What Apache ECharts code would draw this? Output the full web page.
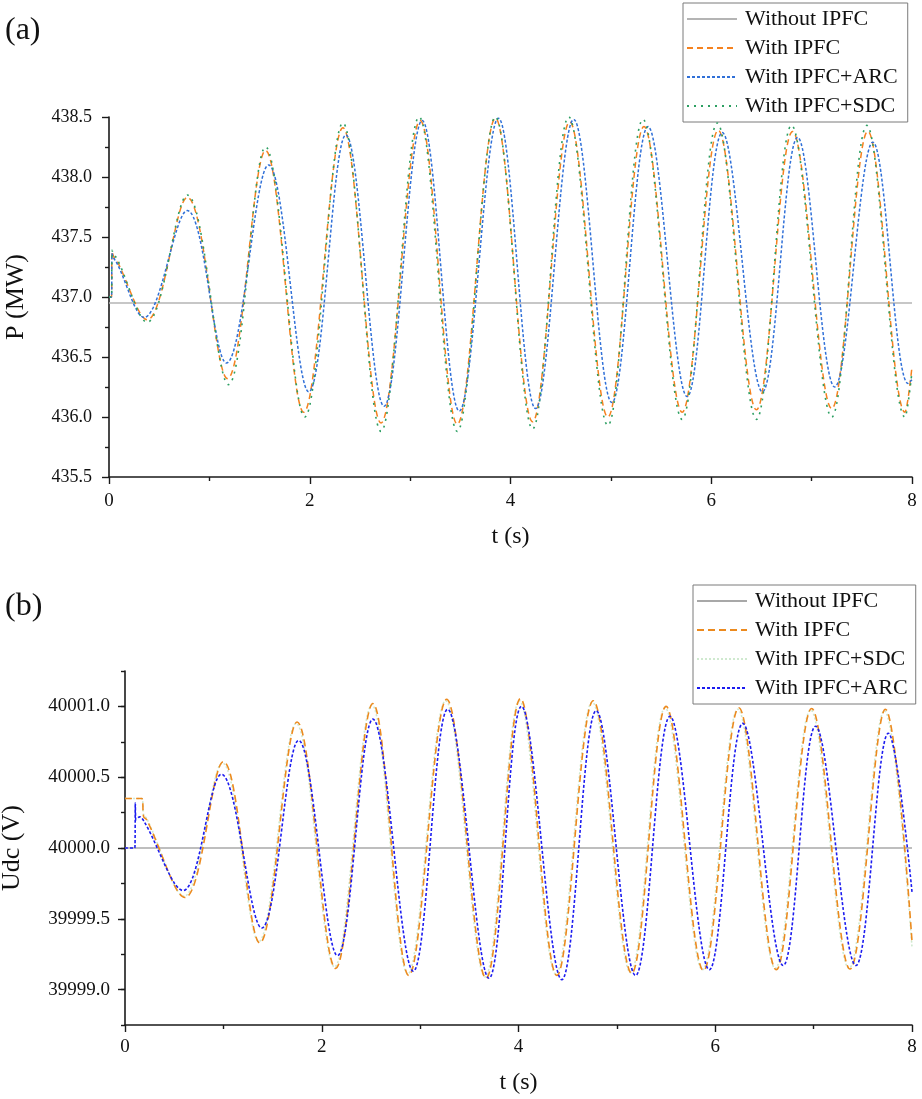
<!DOCTYPE html>
<html><head><meta charset="utf-8">
<script src="https://cdn.jsdelivr.net/npm/echarts@6/dist/echarts.min.js"></script>
<style>html,body{margin:0;padding:0;background:#fff}#c{width:922px;height:1099px}</style>
</head><body><div id="c"></div>
<script>
// ---------- Panel (a): P (MW) ----------
const a_noIPFC_t = [0, 8];
const a_noIPFC_v = [436.95, 436.95];

const a_ipfc_t = [0, 0.025, 0.03, 0.05, 0.08, 0.38, 0.78, 1.18, 1.56, 1.94, 2.33, 2.71, 3.10, 3.47, 3.85, 4.22, 4.59, 4.97, 5.33, 5.71, 6.07, 6.45, 6.81, 7.20, 7.56, 7.93, 8.0];
const a_ipfc_v = [437.0, 437.0, 437.38, 437.33, 437.30, 436.81, 437.83, 436.32, 438.22, 436.04, 438.41, 435.95, 438.47, 435.94, 438.49, 435.96, 438.46, 436.0, 438.42, 436.04, 438.39, 436.06, 438.38, 436.07, 438.38, 436.04, 436.42];

const a_arc_t = [0, 0.025, 0.03, 0.05, 0.08, 0.35, 0.78, 1.17, 1.59, 1.99, 2.36, 2.74, 3.12, 3.49, 3.88, 4.25, 4.63, 5.01, 5.37, 5.76, 6.11, 6.51, 6.86, 7.23, 7.61, 7.96, 8.0];
const a_arc_v = [437.0, 437.0, 437.36, 437.32, 437.28, 436.83, 437.72, 436.45, 438.10, 436.21, 438.35, 436.09, 438.47, 436.05, 438.49, 436.07, 438.48, 436.12, 438.42, 436.17, 438.37, 436.21, 438.33, 436.25, 438.29, 436.28, 436.31];

const a_sdc_t = [0, 0.025, 0.03, 0.05, 0.08, 0.38, 0.78, 1.19, 1.56, 1.95, 2.33, 2.71, 3.09, 3.47, 3.85, 4.22, 4.58, 4.97, 5.32, 5.71, 6.06, 6.45, 6.80, 7.20, 7.55, 7.93, 8.0];
const a_sdc_v = [437.0, 437.0, 437.39, 437.35, 437.32, 436.79, 437.85, 436.27, 438.25, 436.0, 438.45, 435.88, 438.5, 435.88, 438.5, 435.9, 438.5, 435.93, 438.48, 435.98, 438.45, 435.98, 438.43, 436.0, 438.43, 436.0, 436.38];

// ---------- Panel (b): Udc (V) ----------
const b_noIPFC_t = [0, 8];
const b_noIPFC_v = [40000.0, 40000.0];

const b_ipfc_t = [0, 0.17, 0.19, 0.22, 0.61, 1.0, 1.37, 1.75, 2.14, 2.52, 2.885, 3.27, 3.67, 4.02, 4.39, 4.76, 5.15, 5.50, 5.88, 6.24, 6.62, 6.98, 7.37, 7.73, 8.0];
const b_ipfc_v = [40000.35, 40000.35, 40000.22, 40000.2, 39999.65, 40000.61, 39999.33, 40000.89, 39999.15, 40001.02, 39999.10, 40001.05, 39999.08, 40001.055, 39999.10, 40001.04, 39999.115, 40001.0, 39999.135, 40000.99, 39999.14, 40000.985, 39999.145, 40000.98, 39999.34];

const b_sdc_t = [0, 0.17, 0.19, 0.22, 0.60, 0.99, 1.36, 1.74, 2.13, 2.51, 2.875, 3.26, 3.66, 4.01, 4.38, 4.75, 5.14, 5.49, 5.87, 6.23, 6.61, 6.97, 7.36, 7.72, 8.0];
const b_sdc_v = [40000.35, 40000.35, 40000.23, 40000.21, 39999.66, 40000.60, 39999.34, 40000.88, 39999.16, 40001.01, 39999.11, 40001.04, 39999.09, 40001.04, 39999.11, 40001.03, 39999.12, 40000.99, 39999.14, 40000.98, 39999.15, 40000.975, 39999.15, 40000.97, 39999.30];

const b_arc_t = [0, 0.1, 0.105, 0.11, 0.15, 0.2, 0.59, 0.98, 1.39, 1.765, 2.16, 2.52, 2.93, 3.28, 3.70, 4.03, 4.44, 4.79, 5.19, 5.54, 5.94, 6.28, 6.69, 7.02, 7.43, 7.76, 8.0];
const b_arc_v = [40000.0, 40000.0, 40000.32, 40000.2, 40000.22, 40000.18, 39999.70, 40000.52, 39999.435, 40000.76, 39999.24, 40000.91, 39999.13, 40000.98, 39999.08, 40001.0, 39999.07, 40000.97, 39999.10, 40000.93, 39999.14, 40000.88, 39999.17, 40000.86, 39999.17, 40000.81, 39999.69];

// tick values
const xTicks = [0, 2, 4, 6, 8];
const aYMin = 435.5, aYMax = 438.5;
const bYMin = 39998.75, bYMax = 40001.25;
const bYMajor = [39999.0, 39999.5, 40000.0, 40000.5, 40001.0];

const zip = (t, v) => t.map((x, i) => [x, v[i]]);
const FONT = '"Liberation Serif", "DejaVu Serif", serif';
const AX = '#1a1a1a';

function xAxisCfg(grid, nameGap, labelMargin) {
  return {
    type: 'value', gridIndex: grid, min: 0, max: 8, interval: 2,
    name: 't (s)', nameLocation: 'middle', nameGap: nameGap,
    nameTextStyle: { fontFamily: FONT, fontSize: 24, color: '#111' },
    axisLine: { show: true, onZero: false, lineStyle: { color: AX, width: 1.6 } },
    axisTick: { show: true, length: 7, lineStyle: { color: AX, width: 1.4 } },
    minorTick: { show: true, splitNumber: 2, length: 4, lineStyle: { color: AX, width: 1.4 } },
    axisLabel: { fontFamily: FONT, fontSize: 19, color: '#111', margin: labelMargin },
    splitLine: { show: false }
  };
}

const chart = echarts.init(document.getElementById('c'), null, { renderer: 'canvas' });

function line(name, data, xi, yi, color, type, width, z) {
  return {
    name, type: 'line', xAxisIndex: xi, yAxisIndex: yi, data,
    symbol: 'none', showSymbol: false, smooth: 0.36, animation: false,
    lineStyle: { color, type, width }, itemStyle: { color }, z
  };
}
function flat(name, data, xi, yi, color, width, z) {
  const s = line(name, data, xi, yi, color, 'solid', width, z);
  s.smooth = false;
  return s;
}

const legendBase = {
  orient: 'vertical', itemWidth: 50, itemHeight: 12, itemGap: 3,
  borderColor: '#7a7a7a', borderWidth: 1, selectedMode: false,
  itemStyle: { opacity: 0 },
  textStyle: { fontFamily: FONT, fontSize: 22, color: '#111', lineHeight: 26, padding: [0, 0, 0, 3] },
  formatter: n => n.replace(/^b:/, '')
};

chart.setOption({
  animation: false,
  backgroundColor: '#fff',
  title: [
    { text: '(a)', left: 0, top: 10, textStyle: { fontFamily: FONT, fontSize: 32, fontWeight: 'normal', color: '#111' } },
    { text: '(b)', left: 0, top: 586, textStyle: { fontFamily: FONT, fontSize: 32, fontWeight: 'normal', color: '#111' } }
  ],
  legend: [
    Object.assign({}, legendBase, {
      left: 683, top: 3, padding: [3, 10, 3, 3],
      data: ['Without IPFC', 'With IPFC', 'With IPFC+ARC', 'With IPFC+SDC']
    }),
    Object.assign({}, legendBase, {
      left: 693, top: 585, padding: [3, 8, 3, 3],
      data: ['b:Without IPFC', 'b:With IPFC', 'b:With IPFC+SDC', 'b:With IPFC+ARC']
    })
  ],
  grid: [
    { left: 109, top: 117, width: 803, height: 360, containLabel: false, outerBoundsMode: 'none' },
    { left: 125, top: 671, width: 787, height: 354, containLabel: false, outerBoundsMode: 'none' }
  ],
  xAxis: [xAxisCfg(0, 48, 15), xAxisCfg(1, 46, 13)],
  yAxis: [
    {
      type: 'value', gridIndex: 0, min: aYMin, max: aYMax, interval: 0.5,
      name: 'P (MW)', nameLocation: 'middle', nameGap: 80,
      nameTextStyle: { fontFamily: FONT, fontSize: 26, color: '#111' },
      axisLine: { show: true, onZero: false, lineStyle: { color: AX, width: 1.6 } },
      axisTick: { show: true, length: 7, lineStyle: { color: AX, width: 1.4 } },
      minorTick: { show: true, splitNumber: 2, length: 4, lineStyle: { color: AX, width: 1.4 } },
      axisLabel: { fontFamily: FONT, fontSize: 18, color: '#111', margin: 17, formatter: v => v.toFixed(1) },
      splitLine: { show: false }
    },
    {
      type: 'value', gridIndex: 1, position: 'left', min: bYMin, max: bYMax, interval: 0.25,
      name: 'Udc (V)', nameLocation: 'middle', nameGap: 100,
      nameTextStyle: { fontFamily: FONT, fontSize: 26, color: '#111' },
      axisLine: { show: true, onZero: false, lineStyle: { color: AX, width: 1.6 } },
      axisTick: { show: true, length: 4, lineStyle: { color: AX, width: 1.4 } },
      axisLabel: {
        fontFamily: FONT, fontSize: 19, color: '#111', margin: 15,
        formatter: v => (bYMajor.some(m => Math.abs(m - v) < 1e-6) ? v.toFixed(1) : '')
      },
      splitLine: { show: false }
    },
    {
      type: 'value', gridIndex: 1, position: 'left', min: bYMin, max: bYMax, interval: 0.25,
      axisLine: { show: false },
      axisTick: { show: true, length: 7, customValues: bYMajor, lineStyle: { color: AX, width: 1.4 } },
      axisLabel: { show: false },
      splitLine: { show: false }
    }
  ],
  series: [
    flat('Without IPFC', zip(a_noIPFC_t, a_noIPFC_v), 0, 0, '#b4b4b4', 1.4, 1),
    line('With IPFC', zip(a_ipfc_t, a_ipfc_v), 0, 0, '#f5821f', [6, 4], 1.5, 2),
    line('With IPFC+ARC', zip(a_arc_t, a_arc_v), 0, 0, '#3070d8', [3, 2], 1.5, 3),
    line('With IPFC+SDC', zip(a_sdc_t, a_sdc_v), 0, 0, '#2c9f62', [2, 5], 1.6, 4),

    flat('b:Without IPFC', zip(b_noIPFC_t, b_noIPFC_v), 1, 1, '#a8a8a8', 1.4, 1),
    line('b:With IPFC+SDC', zip(b_sdc_t, b_sdc_v), 1, 1, '#cfe9cf', [2, 2], 1.6, 2),
    line('b:With IPFC', zip(b_ipfc_t, b_ipfc_v), 1, 1, '#ec8a1e', [7, 4], 1.6, 3),
    line('b:With IPFC+ARC', zip(b_arc_t, b_arc_v), 1, 1, '#1c1cf0', [3, 2], 1.6, 4)
  ]
});
</script></body></html>
